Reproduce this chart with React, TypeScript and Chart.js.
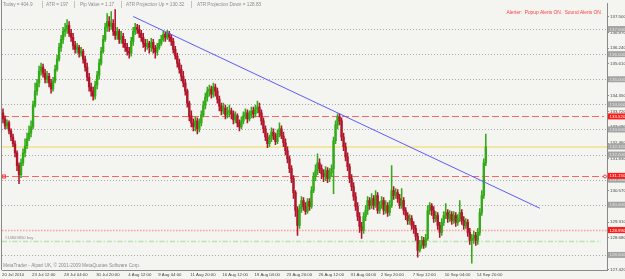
import React, { useEffect, useRef } from 'react';
import { Chart, registerables } from 'chart.js';

Chart.register(...registerables);

// ---------- data (GBPJPY H4) ----------
const opens = [
  133.66,133.42,133.14,133.26,132.94,132.70,132.43,132.07,131.56,131.20,
  131.67,132.07,132.35,132.63,132.86,133.10,133.97,134.53,134.85,135.32,
  135.48,135.24,135.00,135.12,134.85,134.61,134.93,135.40,135.80,136.27,
  136.59,136.91,136.99,137.15,136.83,136.67,136.35,136.19,136.27,136.04,
  136.11,135.80,135.48,135.08,134.69,134.53,134.33,134.77,135.16,135.64,
  136.11,136.59,137.07,137.30,137.11,137.23,136.91,136.75,136.91,136.59,
  136.71,136.43,136.27,136.11,136.04,136.51,136.91,137.07,136.99,136.83,
  136.67,136.43,136.31,136.43,136.27,136.47,136.23,136.08,136.27,136.43,
  136.59,136.79,136.67,136.83,136.67,136.51,136.19,135.92,135.64,135.40,
  135.12,134.85,134.53,134.05,133.54,133.26,133.10,133.34,133.02,133.26,
  133.58,133.97,134.29,134.53,134.61,134.41,134.69,134.53,134.21,133.93,
  133.74,133.85,133.58,133.70,133.74,133.62,133.38,133.54,133.26,133.10,
  133.34,133.54,133.66,133.42,133.58,133.74,133.62,133.82,133.89,133.66,
  133.34,133.02,132.70,132.43,132.63,132.90,132.74,132.51,132.82,133.02,
  132.74,132.47,132.15,131.83,131.44,131.04,130.48,129.77,129.18,129.85,
  130.17,129.93,129.73,130.13,129.93,130.56,131.12,131.36,131.67,131.44,
  131.24,131.12,131.36,131.04,131.28,131.44,132.55,133.18,133.50,133.34,
  132.70,132.31,131.91,131.52,131.04,130.72,130.33,129.93,129.53,129.14,
  128.98,129.53,129.77,130.17,129.97,130.25,129.97,130.37,129.77,129.97,
  130.17,129.77,129.97,129.69,129.97,130.56,130.37,130.48,130.25,129.97,
  130.17,129.77,129.57,129.37,129.45,129.18,129.06,128.74,128.18,128.38,
  128.58,128.38,128.66,129.77,129.97,129.77,129.45,129.57,129.18,128.90,
  129.30,129.57,129.69,129.45,129.61,129.37,129.57,129.30,129.45,129.69,
  129.37,129.18,129.30,128.90,128.58,128.66,128.78,128.58,128.90,129.69,
  130.37,131.67,
];
const highs = [
  133.82,133.54,133.38,133.34,133.02,132.82,132.55,132.15,131.67,131.83,
  132.23,132.63,132.86,133.14,133.34,134.13,134.85,135.00,135.52,135.64,
  135.60,135.40,135.32,135.24,135.00,135.08,135.56,135.96,136.43,136.75,
  137.07,137.23,137.38,137.30,136.99,136.83,136.51,136.43,136.35,136.27,
  136.19,135.92,135.64,135.24,134.85,134.69,134.93,135.32,135.80,136.27,
  136.75,137.23,137.62,137.50,137.70,137.38,137.78,137.07,136.99,136.91,
  136.83,136.59,136.43,136.27,136.67,137.07,137.23,137.19,137.15,136.95,
  136.83,136.59,136.59,136.51,136.63,136.59,136.35,136.43,136.59,136.75,
  136.91,136.87,136.95,136.91,136.79,136.63,136.31,136.04,135.80,135.56,
  135.32,135.00,134.61,134.13,133.74,133.42,133.50,133.46,133.42,133.74,
  134.13,134.45,134.69,134.77,134.73,134.85,134.81,134.65,134.33,134.05,
  134.05,133.97,133.89,133.97,133.85,133.74,133.70,133.62,133.38,133.50,
  133.70,133.82,133.78,133.74,133.89,133.89,133.97,134.13,134.05,133.78,
  133.46,133.14,132.86,132.78,133.06,133.02,132.86,132.98,133.26,133.14,
  132.90,132.63,132.31,131.95,131.56,131.16,130.56,129.93,130.01,130.33,
  130.29,130.09,130.25,130.25,130.72,131.28,131.59,132.03,131.83,131.59,
  131.40,131.52,131.48,131.44,131.59,132.70,133.34,133.62,133.62,133.46,
  132.86,132.47,132.07,131.63,131.20,130.88,130.48,130.09,129.69,129.30,
  129.69,129.97,130.33,130.29,130.44,130.37,130.56,130.48,130.13,130.33,
  130.29,130.17,130.09,130.17,131.56,130.72,130.64,130.60,130.41,130.64,
  130.29,129.89,129.69,129.61,129.57,129.33,129.18,128.86,128.58,128.74,
  128.70,128.82,129.97,130.09,130.05,129.93,129.73,129.69,129.30,129.45,
  129.73,130.05,129.81,129.77,129.73,129.73,129.69,129.61,130.17,129.81,
  129.53,129.45,129.41,129.06,128.82,128.94,128.90,129.06,129.85,130.56,
  131.83,132.82,
];
const lows = [
  133.26,133.02,133.02,132.82,132.55,132.31,131.91,131.36,130.84,131.08,
  131.56,131.91,132.23,132.55,132.70,133.02,133.89,134.37,134.69,135.16,
  135.08,134.85,134.85,134.69,134.45,134.53,134.85,135.32,135.72,136.11,
  136.43,136.71,136.83,136.71,136.51,136.19,136.04,136.04,135.88,135.92,
  135.64,135.32,134.93,134.53,134.33,134.17,134.21,134.61,135.00,135.56,
  136.04,136.51,136.91,136.91,136.99,136.75,136.59,136.59,136.43,136.43,
  136.27,136.11,135.96,135.84,135.92,136.35,136.79,136.83,136.67,136.51,
  136.27,136.11,136.19,136.04,136.11,136.04,135.84,135.96,136.19,136.35,
  136.51,136.51,136.59,136.51,136.35,136.04,135.80,135.48,135.24,134.93,
  134.69,134.37,133.89,133.34,133.10,132.94,132.94,132.82,132.90,133.14,
  133.50,133.82,134.13,134.33,134.25,134.29,134.33,134.05,133.74,133.58,
  133.62,133.42,133.46,133.50,133.42,133.22,133.26,133.10,132.94,133.02,
  133.22,133.42,133.26,133.34,133.46,133.46,133.50,133.66,133.50,133.18,
  132.86,132.55,132.27,132.31,132.51,132.59,132.39,132.43,132.70,132.63,
  132.31,131.99,131.67,131.28,130.88,130.25,129.53,128.78,129.06,129.69,
  129.77,129.61,129.65,129.77,129.85,130.48,130.96,131.20,131.28,131.04,
  130.92,130.96,130.88,130.92,131.12,130.44,132.43,133.02,133.18,132.55,
  132.15,131.75,131.36,130.88,130.56,130.17,129.77,129.37,128.90,128.66,
  128.86,129.37,129.61,129.81,129.85,129.81,129.89,129.65,129.65,129.85,
  129.61,129.65,129.53,129.57,129.89,130.21,130.25,130.09,129.85,129.85,
  129.61,129.41,129.22,129.22,129.02,128.86,128.58,127.91,128.11,128.26,
  128.26,128.30,128.58,129.61,129.57,129.30,129.33,129.02,128.70,128.78,
  129.18,129.45,129.30,129.33,129.22,129.26,129.14,129.18,129.33,129.22,
  129.02,129.06,128.74,128.42,127.67,128.46,128.38,128.42,128.78,129.57,
  130.25,131.56,
];
const closes = [
  133.42,133.14,133.26,132.94,132.70,132.43,132.07,131.56,131.20,131.67,
  132.07,132.35,132.63,132.86,133.10,133.97,134.53,134.85,135.32,135.48,
  135.24,135.00,135.12,134.85,134.61,134.93,135.40,135.80,136.27,136.59,
  136.91,136.99,137.15,136.83,136.67,136.35,136.19,136.27,136.04,136.11,
  135.80,135.48,135.08,134.69,134.53,134.33,134.77,135.16,135.64,136.11,
  136.59,137.07,137.30,137.11,137.23,136.91,136.75,136.91,136.59,136.71,
  136.43,136.27,136.11,136.04,136.51,136.91,137.07,136.99,136.83,136.67,
  136.43,136.31,136.43,136.27,136.47,136.23,136.08,136.27,136.43,136.59,
  136.79,136.67,136.83,136.67,136.51,136.19,135.92,135.64,135.40,135.12,
  134.85,134.53,134.05,133.54,133.26,133.10,133.34,133.02,133.26,133.58,
  133.97,134.29,134.53,134.61,134.41,134.69,134.53,134.21,133.93,133.74,
  133.85,133.58,133.70,133.74,133.62,133.38,133.54,133.26,133.10,133.34,
  133.54,133.66,133.42,133.58,133.74,133.62,133.82,133.89,133.66,133.34,
  133.02,132.70,132.43,132.63,132.90,132.74,132.51,132.82,133.02,132.74,
  132.47,132.15,131.83,131.44,131.04,130.48,129.77,129.18,129.85,130.17,
  129.93,129.73,130.13,129.93,130.56,131.12,131.36,131.67,131.44,131.24,
  131.12,131.36,131.04,131.28,131.44,132.55,133.18,133.50,133.34,132.70,
  132.31,131.91,131.52,131.04,130.72,130.33,129.93,129.53,129.14,128.98,
  129.53,129.77,130.17,129.97,130.25,129.97,130.37,129.77,129.97,130.17,
  129.77,129.97,129.69,129.97,130.56,130.37,130.48,130.25,129.97,130.17,
  129.77,129.57,129.37,129.45,129.18,129.06,128.74,128.18,128.38,128.58,
  128.38,128.66,129.77,129.97,129.77,129.45,129.57,129.18,128.90,129.30,
  129.57,129.69,129.45,129.61,129.37,129.57,129.30,129.45,129.69,129.37,
  129.18,129.30,128.90,128.58,128.66,128.78,128.58,128.90,129.69,130.37,
  131.67,132.31,
];

const SLOTS = 302; // bars visible across the window incl. empty right margin

const timeTickLabels = [
  '20 Jul 2010', '23 Jul 12:00', '28 Jul 04:00', '30 Jul 20:00', '4 Aug 12:00',
  '9 Aug 04:00', '11 Aug 20:00', '16 Aug 12:00', '19 Aug 04:00', '23 Aug 20:00',
  '26 Aug 12:00', '31 Aug 04:00', '2 Sep 20:00', '7 Sep 12:00', '10 Sep 04:00', '14 Sep 20:00',
];
const timeTickBars = [0, 15, 31, 47, 63, 78, 94, 110, 126, 142, 158, 174, 189, 205, 221, 237];

const priceTicks = [
  127.42, 128.05, 128.68, 129.31, 129.94, 130.57, 131.20, 131.83, 132.46,
  133.09, 133.72, 134.35, 134.98, 135.61, 136.24, 136.87, 137.50,
];

const gridLevels = [128, 129, 130, 131, 132, 133, 134, 135, 136, 137];
const redLevels = [133.52, 131.15];
const yellowLevel = 132.32;
const pinkLevel = 128.99;
const greenLevel = 128.54;

const trendBars = [65, 268];
const trendPrices = [137.50, 129.86];

const infoItems = ['Today = 404.9', 'ATR = 197', 'Pip Value = 1.17', 'ATR Projection Up = 130.32', 'ATR Projection Down = 128.83'];
const alertText = 'Alerter:  Popup Alerts ON.  Sound Alerts ON.';
const copyrightText = 'MetaTrader - Alpari UK, \u00a9 2001-2009 MetaQuotes Software Corp.';
const orderLabel = '#14803850 buy';

const BULL = '#33aa17';
const BEAR = '#b0152a';
const FONT = 'Liberation Sans, Arial, sans-serif';

export default function App() {
  const ref = useRef<HTMLCanvasElement>(null);

  useEffect(() => {
    const canvas = ref.current;
    if (!canvas) return;

    const labels = Array.from({ length: SLOTS }, (_, i) => String(i));
    const colors = closes.map((c, i) => (c >= opens[i] ? BULL : BEAR));
    const trendData: (number | null)[] = Array.from({ length: SLOTS }, () => null);
    trendBars.forEach((b, k) => { trendData[b] = trendPrices[k]; });

    const overlay = {
      id: 'mtOverlay',
      beforeDraw(chart: any) {
        const { ctx, width, height } = chart;
        ctx.save();
        ctx.fillStyle = '#f4f4f1';
        ctx.fillRect(0, 0, width, height);
        ctx.restore();
      },
      beforeDatasetsDraw(chart: any) {
        const { ctx, chartArea: a, scales } = chart;
        const y = scales.y;
        const hline = (v: number, color: string, w: number, dash: number[], endInset = 0) => {
          const py = Math.round(y.getPixelForValue(v)) + (w % 2 ? 0.5 : 0);
          ctx.beginPath();
          ctx.setLineDash(dash);
          ctx.strokeStyle = color;
          ctx.lineWidth = w;
          ctx.moveTo(a.left, py);
          ctx.lineTo(a.right - endInset, py);
          ctx.stroke();
        };
        ctx.save();
        ctx.beginPath();
        ctx.rect(a.left, a.top, a.right - a.left, a.bottom - a.top);
        ctx.clip();
        gridLevels.forEach((v) => hline(v, '#a9a9a9', 1, [1, 2]));
        hline(yellowLevel, '#f3e6a2', 2, []);
        hline(pinkLevel, '#ff9a9a', 1.5, [1.5, 1.5]);
        hline(greenLevel, '#b9e3b1', 1.5, [5, 2, 1.5, 2], 6);
        redLevels.forEach((v) => hline(v, '#ff6464', 1, [7, 3], 3));
        ctx.setLineDash([]);
        const py = Math.round(y.getPixelForValue(redLevels[1])) + 0.5;
        ctx.strokeStyle = '#ff4040';
        ctx.lineWidth = 1;
        ctx.strokeRect(a.left + 0.5, py - 1.5, 3, 3);
        ctx.beginPath();
        ctx.arc(a.right - 2, py, 1.5, 0, Math.PI * 2);
        ctx.stroke();
        ctx.restore();
      },
      afterDraw(chart: any) {
        const { ctx, chartArea: a, scales, width } = chart;
        const y = scales.y;
        const x = scales.x;
        ctx.save();
        ctx.strokeStyle = '#8a8a8a';
        ctx.lineWidth = 1;
        ctx.beginPath();
        ctx.moveTo(1.5, 0);
        ctx.lineTo(1.5, a.bottom);
        ctx.stroke();

        // time axis labels
        ctx.font = `4.3px ${FONT}`;
        ctx.fillStyle = '#444';
        ctx.textAlign = 'left';
        ctx.textBaseline = 'middle';
        timeTickLabels.forEach((t, k) => {
          const px = x.getPixelForValue(timeTickBars[k]);
          ctx.fillText(t, Math.max(1, px - 1), 274.5);
        });

        // info line
        ctx.font = `4.7px ${FONT}`;
        ctx.fillStyle = '#8c8c8c';
        const infoX = [3, 46, 80, 126, 197];
        const sepX = [42, 74, 121, 191];
        infoItems.forEach((t, i) => ctx.fillText(t, infoX[i], 4.5));
        ctx.strokeStyle = '#c4c4c4';
        sepX.forEach((sx) => {
          ctx.beginPath();
          ctx.moveTo(sx + 0.5, 1);
          ctx.lineTo(sx + 0.5, 8);
          ctx.stroke();
        });

        // alerter
        ctx.font = `4.8px ${FONT}`;
        ctx.fillStyle = '#ff3b3b';
        ctx.textAlign = 'right';
        ctx.fillText(alertText, 602, 12.5);

        // copyright
        ctx.textAlign = 'left';
        ctx.font = `4.7px ${FONT}`;
        ctx.fillStyle = '#8a8a8a';
        ctx.fillText(copyrightText, 3, 266);

        // order label
        ctx.font = `4.1px ${FONT}`;
        ctx.fillStyle = '#8f8f8f';
        ctx.fillText(orderLabel, 5, 237.5);

        // level labels on price axis
        const box = (v: number, bg: string, fg: string) => {
          const py = y.getPixelForValue(v);
          ctx.fillStyle = bg;
          ctx.fillRect(a.right + 1, py - 3, width - a.right - 1, 6);
          ctx.fillStyle = fg;
          ctx.font = `4.4px ${FONT}`;
          ctx.textAlign = 'left';
          ctx.fillText(v.toFixed(3), a.right + 2.5, py + 0.3);
        };
        gridLevels.forEach((v) => box(v, '#a4a4a4', '#e4e4e4'));
        box(yellowLevel, '#a4a4a4', '#e4e4e4');
        redLevels.forEach((v) => box(v, '#ff1a1a', '#ffffff'));
        box(pinkLevel, '#ff1a1a', '#ffffff');
        ctx.restore();
      },
    };

    const chart = new Chart(canvas, {
      type: 'bar',
      data: {
        labels,
        datasets: [
          {
            type: 'line',
            data: trendData,
            borderColor: '#5c5cff',
            borderWidth: 1,
            pointRadius: 0,
            spanGaps: true,
            order: 0,
          } as any,
          {
            data: opens.map((o, i) => [o, closes[i]]),
            backgroundColor: colors,
            borderWidth: 0,
            barThickness: 1.7,
            grouped: false,
            order: 1,
          } as any,
          {
            data: lows.map((l, i) => [l, highs[i]]),
            backgroundColor: colors,
            borderWidth: 0,
            barThickness: 0.9,
            grouped: false,
            order: 2,
          } as any,
        ],
      },
      options: {
        responsive: false,
        devicePixelRatio: 1,
        animation: false,
        events: [],
        layout: { padding: { left: 2, top: 2, right: 0, bottom: 0 } },
        plugins: { legend: { display: false }, tooltip: { enabled: false } },
        scales: {
          x: {
            type: 'category',
            offset: true,
            afterFit: (s: any) => { s.height = 9; },
            grid: { display: false },
            border: { display: true, color: '#8a8a8a' },
            ticks: { display: false },
          },
          y: {
            type: 'linear',
            position: 'right',
            min: 127.40,
            max: 138.03,
            afterBuildTicks: (s: any) => { s.ticks = priceTicks.map((v) => ({ value: v })); },
            afterFit: (s: any) => { s.width = 18; },
            grid: { drawOnChartArea: false, drawTicks: true, tickLength: 2, color: '#8a8a8a' },
            border: { display: true, color: '#8a8a8a' },
            ticks: {
              autoSkip: false,
              padding: 1,
              color: '#444',
              font: { size: 4.4, family: FONT, lineHeight: 1 },
              callback: (v: any) => Number(v).toFixed(3),
            },
          },
        },
      } as any,
      plugins: [overlay],
    });

    return () => chart.destroy();
  }, []);

  return (
    <div style={{ position: 'fixed', left: 0, top: 0, width: 625, height: 279 }}>
      <canvas ref={ref} width={625} height={279} style={{ display: 'block', width: 625, height: 279 }} />
    </div>
  );
}
